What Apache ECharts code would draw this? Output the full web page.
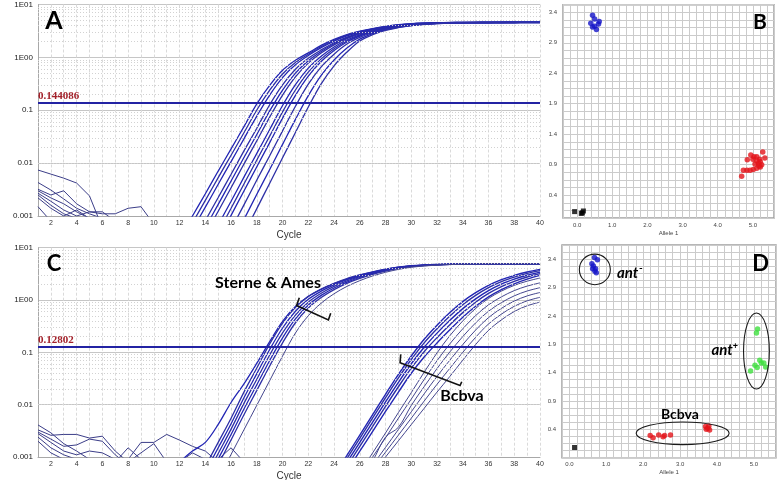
<!DOCTYPE html>
<html><head><meta charset="utf-8">
<script src="https://cdn.jsdelivr.net/npm/echarts@6/dist/echarts.min.js"></script>
<style>html,body{margin:0;padding:0;background:#fff}#c{width:778px;height:480px}</style>
</head><body><div id="c"></div>
<script>
// ---------------- DATA ----------------
const cyclesAmp = [12,13,14,15,16,17,18,19,20,21,22,23,24,25,26,27,28,29,30,31,32,33,34,35,36,37,38,39,40];
const cyclesLate = [24,25,26,27,28,29,30,31,32,33,34,35,36,37,38,39,40];
const logTickValues = [0.001, 0.01, 0.1, 1, 10];
const logTickText = ['0.001', '0.01', '0.1', '1E00', '1E01'];
const minorLogLines = [0.002,0.003,0.004,0.005,0.006,0.007,0.008,0.009,0.02,0.03,0.04,0.05,0.06,0.07,0.08,0.09,0.2,0.3,0.4,0.5,0.6,0.7,0.8,0.9,2,3,4,5,6,7,8,9];
const thresholdA = 0.144086;
const thresholdC = 0.12802;

// Panel A amplification curves (cycles 12..40)
const ampA1 = [0.00038,0.001,0.00263,0.00708,0.0186,0.049,0.132,0.295,0.569,0.881,1.216,1.683,2.188,2.704,3.119,3.508,3.855,4.14,4.345,4.457,4.529,4.57,4.58,4.58,4.59,4.59,4.6,4.6,4.6];
const ampA1b = [0.000276,0.00074,0.00197,0.00531,0.0141,0.0376,0.1012,0.2392,0.4857,0.7992,1.1476,1.6026,2.1096,2.6275,3.067,3.4577,3.8087,4.0998,4.3124,4.4384,4.5199,4.56,4.575,4.575,4.585,4.585,4.595,4.595,4.595];
const ampA2 = [0.0002,0.00055,0.00147,0.00398,0.0107,0.0288,0.0776,0.194,0.4145,0.725,1.083,1.526,2.034,2.553,3.016,3.408,3.763,4.06,4.28,4.42,4.51,4.55,4.57,4.57,4.58,4.58,4.59,4.59,4.59];
const ampA3 = [0.0001,0.0003,0.00082,0.00224,0.00617,0.017,0.0457,0.127,0.302,0.597,0.964,1.384,1.892,2.413,2.917,3.311,3.673,3.981,4.217,4.385,4.487,4.539,4.56,4.57,4.57,4.58,4.58,4.58,4.59];
const ampA3b = [0.0000707,0.000212,0.0006,0.00166,0.0046,0.01277,0.0348,0.097,0.2414,0.5049,0.866,1.2925,1.8071,2.3378,2.8508,3.2692,3.6348,3.9469,4.1879,4.365,4.472,4.534,4.555,4.565,4.57,4.575,4.58,4.58,4.585];
const ampA4 = [0.00005,0.00015,0.00044,0.00123,0.00343,0.0096,0.0265,0.0741,0.193,0.427,0.778,1.207,1.726,2.265,2.786,3.228,3.597,3.913,4.159,4.345,4.457,4.529,4.55,4.56,4.57,4.57,4.58,4.58,4.58];
const ampA5 = [0.00003,0.00008,0.00024,0.00068,0.0019,0.00543,0.0153,0.0432,0.123,0.305,0.627,1.053,1.576,2.128,2.661,3.151,3.524,3.846,4.102,4.3,4.432,4.514,4.55,4.56,4.57,4.57,4.57,4.58,4.58];
const ampA5b = [0.0000173,0.0000566,0.000177,0.000495,0.0014,0.00402,0.01144,0.03247,0.0933,0.2414,0.5262,0.9371,1.4565,2.0392,2.5911,3.0955,3.4939,3.8194,4.0829,4.283,4.419,4.506,4.545,4.56,4.565,4.57,4.57,4.575,4.58];
const ampA6 = [0.00001,0.00004,0.00013,0.00036,0.00103,0.00297,0.00856,0.0244,0.0708,0.191,0.4416,0.834,1.346,1.954,2.523,3.041,3.464,3.793,4.064,4.266,4.406,4.498,4.54,4.56,4.56,4.57,4.57,4.58,4.58];
const ampA7 = [0.00001,0.00003,0.00007,0.00019,0.00056,0.00162,0.00479,0.0138,0.0407,0.119,0.311,0.659,1.151,1.795,2.393,2.935,3.404,3.746,4.027,4.232,4.385,4.477,4.529,4.55,4.56,4.56,4.57,4.57,4.57];
const ampA8 = [0.00001,0.00002,0.00004,0.0001,0.00029,0.00086,0.00257,0.00759,0.0226,0.0672,0.189,0.4566,0.892,1.503,2.211,2.812,3.319,3.707,4.004,4.227,4.375,4.472,4.52,4.55,4.555,4.56,4.565,4.565,4.565];
const ampA9 = [0.00001,0.00001,0.00002,0.00005,0.00015,0.00046,0.00138,0.00417,0.0126,0.038,0.115,0.316,0.692,1.259,2.042,2.692,3.236,3.673,3.981,4.217,4.365,4.467,4.519,4.55,4.55,4.56,4.56,4.56,4.56];

// Panel A baseline noise ([cycle, dRn])
const noiseA1 = [[1,0.0074],[2,0.0062],[3,0.0052],[4,0.0042],[5,0.0024],[6,0.0006]];
const noiseA2 = [[1,0.0043],[2,0.0031],[3,0.0021],[4,0.0014],[5,0.0011],[6,0.0009]];
const noiseA3 = [[1,0.0032],[2,0.0025],[3,0.003],[4,0.0017],[5,0.0012],[6,0.0011],[7,0.0011],[8,0.0014],[9,0.0015],[10,0.0007]];
const noiseA4 = [[1,0.003],[2,0.0022],[3,0.0017],[4,0.0012],[5,0.0009]];
const noiseA5 = [[1,0.0027],[2,0.0019],[3,0.0013],[4,0.001],[5,0.0012],[6,0.0012],[7,0.0008]];
const noiseA6 = [[1,0.0025],[2,0.0016],[3,0.0011],[4,0.0009]];
const noiseA7 = [[1,0.0022],[2,0.0014],[3,0.001],[4,0.0013],[5,0.0009]];
const noiseA8 = [[1,0.0015],[2,0.0008]];

// Panel C: Sterne & Ames curves (cycles 12..40)
const sterne0 = [0.0008,0.0013,0.0019,0.0042,0.011,0.025,0.062,0.16,0.39,0.75,1.17,1.6,2.05,2.52,2.98,3.43,3.86,4.23,4.49,4.66,4.77,4.84,4.88,4.9,4.9,4.9,4.91,4.91,4.91];
const sterne1 = [0.00008,0.00023,0.00066,0.0019,0.0055,0.0174,0.0501,0.145,0.363,0.724,1.175,1.622,2.089,2.57,3.02,3.467,3.89,4.266,4.519,4.677,4.786,4.853,4.9,4.9,4.9,4.9,4.9,4.9,4.9];
const sterne2 = [0.00006,0.00018,0.00052,0.0015,0.00433,0.01355,0.0392,0.1135,0.292,0.6115,1.034,1.477,1.95,2.441,2.907,3.373,3.811,4.2,4.472,4.645,4.76,4.84,4.88,4.89,4.9,4.9,4.9,4.9,4.9];
const sterne3 = [0.00005,0.00014,0.0004,0.00117,0.00341,0.01057,0.0307,0.0891,0.235,0.516,0.91,1.346,1.82,2.317,2.8,3.281,3.733,4.135,4.426,4.613,4.737,4.823,4.87,4.89,4.9,4.9,4.9,4.9,4.9];
const sterne4 = [0.00004,0.00011,0.00032,0.00092,0.00269,0.00824,0.024,0.07,0.189,0.436,0.801,1.226,1.698,2.2,2.695,3.19,3.656,4.074,4.381,4.581,4.71,4.808,4.86,4.88,4.9,4.9,4.9,4.9,4.9];
const sterne5 = [0.00003,0.00008,0.00025,0.00072,0.00212,0.00643,0.0188,0.055,0.152,0.368,0.705,1.117,1.585,2.089,2.594,3.105,3.581,4.009,4.335,4.55,4.688,4.792,4.85,4.88,4.9,4.9,4.9,4.9,4.9];
const sterne6 = [0.00001,0.00004,0.00013,0.00038,0.00112,0.00331,0.00977,0.0288,0.0851,0.234,0.501,0.871,1.318,1.82,2.344,2.884,3.388,3.846,4.217,4.467,4.624,4.753,4.831,4.875,4.9,4.9,4.9,4.9,4.9];

// Panel C: Bcbva curves (cycles 24..40)
const bcbva1 = [0.00044,0.00107,0.00263,0.00646,0.0158,0.038,0.0851,0.178,0.331,0.575,0.933,1.38,1.905,2.455,2.951,3.428,3.846];
const bcbva2 = [0.00038,0.00093,0.00228,0.00557,0.0136,0.0325,0.0731,0.152,0.283,0.494,0.813,1.225,1.722,2.249,2.742,3.221,3.648];
const bcbva3 = [0.00032,0.00079,0.00191,0.00463,0.01126,0.0267,0.0605,0.125,0.233,0.409,0.684,1.054,1.517,2.017,2.5,2.98,3.412];
const bcbva4 = [0.00027,0.00066,0.0016,0.00385,0.00931,0.022,0.05,0.103,0.191,0.338,0.575,0.908,1.337,1.807,2.28,2.758,3.196];
const bcbva5 = [0.00022,0.00054,0.00129,0.00309,0.00741,0.0174,0.0398,0.0813,0.151,0.269,0.468,0.759,1.148,1.585,2.042,2.512,2.951];
const bcbva6 = [0.00005,0.00015,0.00049,0.0012,0.00288,0.00708,0.017,0.0417,0.0977,0.209,0.398,0.692,1.072,1.479,1.905,2.291,2.63];
const bcbva7 = [0.00004,0.00013,0.00042,0.001,0.00233,0.00552,0.0128,0.0303,0.0692,0.146,0.282,0.504,0.809,1.148,1.514,1.845,2.128];
const bcbva8 = [0.00004,0.00012,0.00037,0.00084,0.0024,0.0037,0.00968,0.0221,0.049,0.102,0.2,0.366,0.611,0.891,1.202,1.486,1.722];
const bcbva9 = [0.00003,0.0001,0.00032,0.0007,0.00153,0.00336,0.00731,0.0161,0.0347,0.0711,0.141,0.267,0.461,0.692,0.955,1.197,1.393];
const bcbva10 = [0.00003,0.00009,0.00028,0.00059,0.00124,0.00262,0.00552,0.0117,0.0245,0.0497,0.1,0.194,0.348,0.537,0.759,0.964,1.127];
const bcbva11 = [0.00002,0.00007,0.00024,0.00049,0.001,0.00204,0.00417,0.00851,0.0174,0.0347,0.0708,0.141,0.263,0.417,0.603,0.776,0.912];

// Panel C baseline noise ([cycle, dRn])
const noiseC1 = [[1,0.0041],[2,0.0029],[3,0.0018],[4,0.0013],[5,0.0009]];
const noiseC2 = [[1,0.0033],[2,0.0026],[3,0.0027],[4,0.0027],[5,0.0023],[6,0.0025],[7,0.0013],[8,0.0008]];
const noiseC3 = [[1,0.003],[2,0.0022],[3,0.0016],[4,0.0017],[5,0.0022],[6,0.002],[7,0.0011],[8,0.0007]];
const noiseC4 = [[1,0.0028],[2,0.0019],[3,0.0013],[4,0.0011],[5,0.0013],[6,0.0012],[7,0.0009]];
const noiseC5 = [[1,0.0024],[2,0.0015],[3,0.0011],[4,0.0009]];
const noiseC6 = [[1,0.002],[2,0.0012],[3,0.0009]];
const noiseC7 = [[8,0.0009],[9,0.0019],[10,0.0019],[11,0.0027],[12,0.0021],[13,0.0016],[14,0.0013],[15,0.0008]];
const noiseC8 = [[7,0.0008],[8,0.0015],[9,0.0009]];
const noiseC9 = [[8,0.0008],[9,0.0012],[10,0.0018],[11,0.0008]];
const noiseC10 = [[12,0.0008],[13,0.0012],[14,0.0009]];
const noiseC11 = [[15,0.0009],[16,0.0015],[17,0.0008]];

// Panel B allelic discrimination ([Allele 1, Allele 2])
const bBlue = [[0.44,3.35],[0.50,3.29],[0.39,3.22],[0.63,3.25],[0.61,3.21],[0.44,3.16],[0.55,3.12],[0.50,3.17]];
const bRed = [[4.68,0.71],[4.73,0.81],[4.83,0.81],[4.92,0.81],[5.01,0.82],[5.11,0.84],[5.21,0.86],[4.84,0.98],[4.94,1.06],[5.03,1.03],[5.11,1.03],[5.19,0.99],[5.28,1.11],[5.34,1.01],[5.25,0.90],[5.16,0.92],[5.11,0.96],[5.21,0.95],[5.06,0.91],[5.17,0.88],[5.00,0.99]];
const bBlack = [[-0.07,0.13],[0.12,0.10],[0.18,0.14],[0.15,0.11]];
// Panel D
const dBlue = [[0.68,3.43],[0.76,3.39],[0.61,3.32],[0.65,3.28],[0.71,3.23],[0.63,3.23],[0.69,3.19],[0.73,3.16]];
const dGreen = [[5.10,2.17],[5.07,2.10],[4.91,1.43],[5.03,1.53],[5.09,1.49],[5.16,1.62],[5.27,1.57],[5.32,1.50],[5.20,1.57]];
const dRed = [[2.19,0.29],[2.27,0.25],[2.42,0.30],[2.54,0.27],[2.58,0.29],[2.74,0.30],[3.69,0.45],[3.78,0.46],[3.80,0.39],[3.71,0.40],[3.75,0.42]];
const dBlack = [[0.14,0.08]];

// ---------------- ANNOTATION GEOMETRY (data units) ----------------
const ellipsesD = [
  {c:[0.69,3.22], r:[0.42,0.27]},
  {c:[5.07,1.78], r:[0.35,0.67]},
  {c:[3.07,0.33], r:[1.26,0.20]}
];
const bracketSterne = [[21.30,1.11],[21.09,0.785],[23.56,0.415],[23.74,0.557]];
const bracketBcbva = [[29.18,0.0917],[29.13,0.0632],[33.79,0.0232],[33.92,0.0274]];

// ---------------- CHART ----------------
const chart = echarts.init(document.getElementById('c'), null, {renderer:'canvas'});
const AMP = '#2326b4', AMP2 = '#2e30a6', THIN = '#44468e', NOISE = '#3b3d88', THR = '#2323a3';

function logLabel(v){
  const e = Math.round(Math.log10(v));
  const i = logTickValues.findIndex(t => Math.round(Math.log10(t)) === e);
  return i >= 0 ? logTickText[i] : '';
}
function evenLabel(v){ const r = Math.round(v); return (Math.abs(v-r)<1e-6 && r%2===0) ? String(r) : ''; }
function alleleX(v){ const r = Math.round(v); return (Math.abs(v-r)<1e-6 && r>=0 && r<=5) ? r.toFixed(1) : ''; }
function alleleY(v){ const k=(v-0.4)/0.5, r=Math.round(k); return (Math.abs(k-r)<1e-4 && r>=0) ? (0.4+0.5*r).toFixed(1) : ''; }

function ampXAxis(gi){
  return {gridIndex:gi, type:'value', min:1, max:40, interval:1,
    axisLine:{show:true, lineStyle:{color:'#a8a8a8'}}, axisTick:{show:false},
    axisLabel:{fontSize:7, color:'#333', margin:4, formatter:evenLabel, fontFamily:'Liberation Sans'},
    splitLine:{show:true, lineStyle:{color:'#dadada', type:[3,2], width:1}},
    name:'Cycle', nameLocation:'middle', nameGap:14, nameTextStyle:{fontSize:10, color:'#333', fontFamily:'Liberation Sans'}};
}
function ampYAxis(gi){
  return {gridIndex:gi, type:'log', logBase:10, min:0.001, max:10,
    axisLine:{show:true, lineStyle:{color:'#a8a8a8'}}, axisTick:{show:false},
    axisLabel:{fontSize:8, color:'#222', margin:5, formatter:logLabel, fontFamily:'Liberation Sans'},
    splitLine:{show:true, lineStyle:{color:'#c6c6c6', width:1}},
    name:'ΔRn', nameLocation:'middle', nameGap:22, nameTextStyle:{fontSize:10, color:'#333', fontFamily:'Liberation Sans'}};
}
function alleleXAxis(gi, mn, mx){
  return {gridIndex:gi, type:'value', min:mn, max:mx, interval:0.2,
    axisLine:{show:false}, axisTick:{show:false},
    axisLabel:{fontSize:6, color:'#444', margin:4, formatter:alleleX, showMinLabel:true, showMaxLabel:true},
    splitLine:{show:true, lineStyle:{color:'#cbcbcb', width:1}},
    name:'Allele 1', nameLocation:'middle', nameGap:12, nameTextStyle:{fontSize:6, color:'#444'}};
}
function alleleYAxis(gi, mn, mx){
  return {gridIndex:gi, type:'value', min:mn, max:mx, interval:0.125,
    axisLine:{show:false}, axisTick:{show:false},
    axisLabel:{fontSize:6, color:'#444', margin:6, formatter:alleleY},
    splitLine:{show:true, lineStyle:{color:'#cbcbcb', width:1}}};
}

function lineS(ax, pairs, color, width, smooth){
  return {type:'line', xAxisIndex:ax, yAxisIndex:ax, data:pairs, showSymbol:false, symbol:'none',
    smooth:smooth, silent:true, clip:true, z:3, lineStyle:{color:color, width:width}};
}
function zipC(cycles, vals){ return cycles.map((c,i)=>[c, vals[i]]); }
function gridDecor(ax, thr){
  return [
    {type:'line', xAxisIndex:ax, yAxisIndex:ax, data:[[1,0.0001]], showSymbol:false, silent:true, z:1,
      lineStyle:{opacity:0},
      markLine:{silent:true, symbol:'none', animation:false, label:{show:false},
        lineStyle:{color:'#d2d2d2', type:[1,2], width:1},
        data: minorLogLines.map(v=>({yAxis:v}))}},
    {type:'line', xAxisIndex:ax, yAxisIndex:ax, data:[[1,0.0001]], showSymbol:false, silent:true, z:6,
      lineStyle:{opacity:0},
      markLine:{silent:true, symbol:'none', animation:false,
        lineStyle:{color:THR, type:'solid', width:2},
        label:{show:true, position:'insideStartTop', distance:[0,1], formatter:String(thr),
          color:'#a3222b', fontFamily:'Liberation Serif', fontWeight:'bold', fontSize:11},
        data:[{yAxis:thr}]}}
  ];
}

const series = [];
// Panel A
series.push(...gridDecor(0, thresholdA));
[noiseA1,noiseA2,noiseA3,noiseA4,noiseA5,noiseA6,noiseA7,noiseA8].forEach(n=>series.push(lineS(0,n,NOISE,1,false)));
[ampA1,ampA1b,ampA2,ampA3,ampA3b,ampA4,ampA5,ampA5b,ampA6,ampA7,ampA8,ampA9].forEach((a,i)=>series.push(lineS(0,zipC(cyclesAmp,a), i%2?AMP2:AMP, 1.3, 0.35)));
// Panel C
series.push(...gridDecor(2, thresholdC));
[noiseC1,noiseC2,noiseC3,noiseC4,noiseC5,noiseC6,noiseC7,noiseC8,noiseC9,noiseC10,noiseC11].forEach(n=>series.push(lineS(2,n,NOISE,1,false)));
[sterne0,sterne1,sterne2,sterne3,sterne4,sterne5,sterne6].forEach((a,i)=>series.push(lineS(2,zipC(cyclesAmp,a), i===6?THIN:(i%2?AMP2:AMP), i===6?1:1.3, 0.35)));
[bcbva1,bcbva2,bcbva3,bcbva4,bcbva5].forEach((a,i)=>series.push(lineS(2,zipC(cyclesLate,a), i%2?AMP2:AMP, 1.4, 0.35)));
[bcbva6,bcbva7,bcbva8,bcbva9,bcbva10,bcbva11].forEach(a=>series.push(lineS(2,zipC(cyclesLate,a), THIN, 1, 0.35)));
// Panel B / D scatter
function sc(ax, d, color, sym, size){
  return {type:'scatter', xAxisIndex:ax, yAxisIndex:ax, data:d, symbol:sym, symbolSize:size, silent:true, z:4,
    itemStyle:{color:color}};
}
series.push(sc(1,bBlue,'#1515c8','circle',5.5), sc(1,bRed,'#e4141a','circle',5.5), sc(1,bBlack,'#000','rect',5));
series.push(sc(3,dBlue,'#1515c8','circle',5.5), sc(3,dGreen,'#3fe03f','circle',5.5), sc(3,dRed,'#e4141a','circle',5.5), sc(3,dBlack,'#000','rect',5));

const option = {
  animation:false,
  backgroundColor:'#fff',
  grid:[
    {left:38, top:4.5, width:502, height:211.5, outerBoundsMode:'none', containLabel:false},
    {left:563, top:4.7, width:211, height:213.3, show:true, borderColor:'#a0a0a0', borderWidth:1.5, outerBoundsMode:'none', containLabel:false},
    {left:38, top:247.7, width:502, height:209.3, outerBoundsMode:'none', containLabel:false},
    {left:562, top:245, width:214, height:212.7, show:true, borderColor:'#a0a0a0', borderWidth:1.5, outerBoundsMode:'none', containLabel:false}
  ],
  xAxis:[ampXAxis(0), alleleXAxis(1,-0.4,5.6), ampXAxis(2), alleleXAxis(3,-0.2,5.6)],
  yAxis:[ampYAxis(0), alleleYAxis(1,0.025,3.525), ampYAxis(2), alleleYAxis(3,-0.1,3.65)],
  series:series
};
chart.setOption(option);

// ---------------- ANNOTATIONS ----------------
const P = (ax, pt) => chart.convertToPixel({xAxisIndex:ax, yAxisIndex:ax}, pt);
const graphics = [];
function txt(x, y, text, font, fill){
  return {type:'text', x:x, y:y, silent:true, z:20,
    style:{text:text, font:font, fill:fill||'#000', textAlign:'center', textVerticalAlign:'middle', align:'center', verticalAlign:'middle'}};
}
const LET = 'Lato, "Open Sans", sans-serif';
graphics.push(txt(54, 21, 'A', 'bold 25px ' + LET));
graphics.push(txt(760, 22, 'B', 'bold 21px ' + LET));
graphics.push(txt(54, 264, 'C', 'bold 22px ' + LET));
graphics.push(txt(760.5, 264, 'D', 'bold 22px ' + LET));
// ellipses in D
ellipsesD.forEach(e=>{
  const c = P(3, e.c), px = P(3, [e.c[0]+e.r[0], e.c[1]]), py = P(3, [e.c[0], e.c[1]+e.r[1]]);
  graphics.push({type:'ellipse', silent:true, z:19, shape:{cx:c[0], cy:c[1], rx:Math.abs(px[0]-c[0]), ry:Math.abs(c[1]-py[1])},
    style:{fill:'none', stroke:'#1a1a1a', lineWidth:1.1}});
});
// brackets in C
[bracketSterne, bracketBcbva].forEach(b=>{
  graphics.push({type:'polyline', silent:true, z:19, shape:{points:b.map(p=>P(2,p))}, style:{fill:'none', stroke:'#111', lineWidth:1.6}});
});
let p;
p = P(2,[18.87,2.11]); graphics.push(txt(p[0], p[1], 'Sterne & Ames', 'bold 16px ' + LET));
p = P(2,[33.94,0.0146]); graphics.push(txt(p[0], p[1], 'Bcbva', 'bold 16px ' + LET));
p = P(3,[1.58,3.15]); graphics.push(txt(p[0], p[1], 'ant', 'italic bold 15px ' + LET));
p = P(3,[1.94,3.24]); graphics.push(txt(p[0], p[1], '-', 'bold 10px ' + LET));
p = P(3,[4.14,1.80]); graphics.push(txt(p[0], p[1], 'ant', 'italic bold 15px ' + LET));
p = P(3,[4.50,1.86]); graphics.push(txt(p[0], p[1], '+', 'bold 9px ' + LET));
p = P(3,[2.995,0.66]); graphics.push(txt(p[0], p[1], 'Bcbva', 'bold 14px ' + LET));
chart.setOption({graphic:{elements:graphics}});
</script></body></html>
